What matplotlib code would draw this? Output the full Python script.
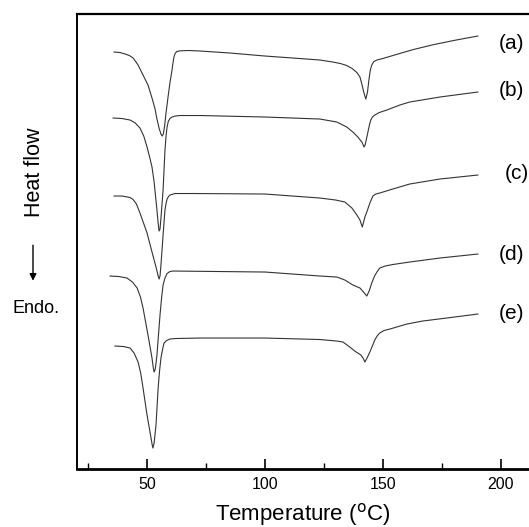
import matplotlib
matplotlib.use('Agg')
import matplotlib.pyplot as plt
from matplotlib.ticker import MultipleLocator

plt.rcParams['font.family'] = ['Liberation Sans', 'DejaVu Sans']

# DSC traces: temperature (C) and heat flow (arb. units)
temp_a = [36.0, 38.5, 40.7, 42.5, 44.1, 46.2, 48.3, 50.4, 52.1, 53.4, 54.2, 55.2, 55.9, 56.4,
          56.9, 57.4, 58.0, 58.9, 59.7, 60.6, 61.0, 61.4, 61.9, 62.6, 64.0, 68.0, 72.5, 85.2,
          100.0, 114.8, 123.3, 128.8, 132.0, 134.7, 137.0, 139.0, 140.3, 141.1, 142.0, 142.8,
          143.5, 144.1, 144.7, 145.3, 146.2, 147.5, 150.0, 156.4, 163.0, 170.8, 180.0, 190.3]
flow_a = [417, 416.5, 415, 413.5, 411, 404, 394, 384, 371, 360, 350, 340, 335, 333,
          335, 342, 355, 372, 386, 399, 406, 412, 415.5, 417.5, 418.2, 418.5, 418, 416,
          413, 410.5, 409, 407, 405.5, 403.5, 400.5, 396.5, 392, 385, 376, 370,
          377, 389, 399, 404, 407.5, 409, 410.5, 415, 419.5, 424, 428.5, 433]

temp_b = [35.6, 39.4, 42.8, 45.0, 47.0, 48.6, 50.0, 51.2, 52.1, 53.0, 54.2, 54.7, 55.1, 55.5,
          55.9, 56.8, 57.6, 58.1, 58.5, 59.0, 59.7, 60.6, 62.0, 64.0, 72.5, 100.0, 123.3,
          130.5, 134.7, 137.3, 139.4, 141.1, 141.7, 142.0, 142.5, 143.6, 144.4, 144.9, 145.6,
          146.6, 148.5, 151.7, 157.2, 161.4, 174.2, 190.3]
flow_b = [351, 350.5, 349, 346, 341, 333, 322, 311, 302, 287, 259, 246, 238, 240,
          251, 279, 319, 334, 342, 347.5, 350.5, 352, 353, 353.5, 353.5, 352, 350,
          347, 342, 337, 332, 327, 324, 322, 324, 336, 345, 349, 352,
          354, 356.5, 359, 364, 367, 372, 377]

temp_c = [36.0, 39.4, 42.8, 44.1, 45.5, 47.0, 48.5, 50.0, 52.1, 53.8, 54.6, 55.1, 55.5, 55.9,
          56.8, 57.6, 58.1, 58.5, 59.1, 59.7, 61.9, 70.0, 100.0, 123.3, 130.0, 133.9, 136.9,
          139.0, 140.3, 141.3, 142.4, 143.5, 144.5, 145.8, 147.0, 148.7, 154.2, 161.4, 174.2,
          190.3]
flow_c = [273, 273, 271.5, 269.5, 265, 256, 246, 236, 217, 202, 194, 190, 193, 204,
          234, 259, 266, 270, 272.5, 274, 275.5, 275.5, 275, 271, 269, 267, 261,
          254, 249, 242, 252, 259, 266, 273, 275, 276, 280, 285, 290,
          294]

temp_d = [34.3, 38.0, 41.5, 43.8, 45.8, 47.2, 48.3, 50.4, 52.1, 52.6, 53.0, 53.5, 54.2, 55.5,
          56.2, 56.8, 57.6, 58.5, 59.7, 61.0, 100.0, 123.3, 130.5, 133.9, 137.3, 140.3, 141.8,
          143.2, 144.2, 145.3, 146.5, 147.5, 148.7, 151.0, 154.2, 161.4, 174.2, 190.3]
flow_d = [193, 192.5, 191, 187, 181, 172, 161, 134, 111, 102, 97, 100, 114, 154,
          172, 184, 191, 195.5, 197.5, 198, 197, 193, 192, 189, 184, 181, 177,
          173, 178, 186, 193, 197, 201, 203, 204.5, 207, 211, 215]

temp_e = [36.4, 40.0, 42.8, 44.5, 46.2, 47.3, 48.3, 50.0, 51.7, 52.2, 52.5, 53.0, 53.8, 54.7,
          55.3, 55.9, 56.6, 57.2, 58.3, 59.7, 62.0, 72.5, 100.0, 123.3, 130.5, 133.1, 136.0,
          138.1, 140.7, 141.6, 142.4, 143.3, 144.5, 146.6, 147.7, 148.7, 150.5, 153.0, 160.2,
          166.9, 177.1, 190.3]
flow_e = [123, 122.5, 121, 116, 107, 96, 81, 54, 31, 24, 21, 26, 44, 81,
          98, 111, 120, 126, 128.5, 130, 130.5, 131, 131, 129.5, 128, 127, 122,
          118, 114, 111, 107, 111, 117, 129, 133.5, 136, 138.5, 140, 145,
          148, 151, 155]

curves = [(temp_a, flow_a), (temp_b, flow_b), (temp_c, flow_c), (temp_d, flow_d), (temp_e, flow_e)]
labels = ['(a)', '(b)', '(c)', '(d)', '(e)']
label_x = [204.7, 204.7, 206.8, 204.7, 204.7]
label_y = [426, 379, 296, 215, 156]

fig = plt.figure(figsize=(5.29, 5.27), dpi=100)
ax = fig.add_axes([0.1456, 0.110, 0.8544, 0.8634])

for t, f in curves:
    ax.plot(t, f, color='#333333', lw=0.8, solid_joinstyle='round')

for lab, lx, ly in zip(labels, label_x, label_y):
    ax.text(lx, ly, lab, fontsize=15, ha='center', va='center', clip_on=False)

ax.set_xlim(20.3, 212)
ax.set_ylim(0, 455)
ax.set_yticks([])
ax.xaxis.set_major_locator(MultipleLocator(50))
ax.xaxis.set_minor_locator(MultipleLocator(25))
ax.set_xticks([50, 100, 150, 200])
ax.tick_params(axis='x', which='major', direction='in', length=7, width=1.2,
               labelsize=11.5, pad=6)
ax.tick_params(axis='x', which='minor', direction='in', length=4, width=1.0)
ax.spines['right'].set_visible(False)
ax.spines['left'].set_linewidth(1.4)
ax.spines['top'].set_linewidth(1.6)
ax.spines['bottom'].set_linewidth(2.0)
ax.set_xlabel('Temperature ($^{\\mathrm{o}}$C)', fontsize=16, labelpad=6)

# y-axis annotation on the left
fig.text(0.066, 0.674, 'Heat flow', rotation=90, fontsize=15.5, ha='center', va='center')
ax.annotate('', xy=(0.0624, 0.462), xytext=(0.0624, 0.540),
            xycoords='figure fraction', textcoords='figure fraction',
            arrowprops=dict(arrowstyle='-|>', color='black', lw=1.0, mutation_scale=10))
fig.text(0.068, 0.414, 'Endo.', fontsize=13, ha='center', va='center')

plt.savefig('out.png', dpi=100)
plt.close()
